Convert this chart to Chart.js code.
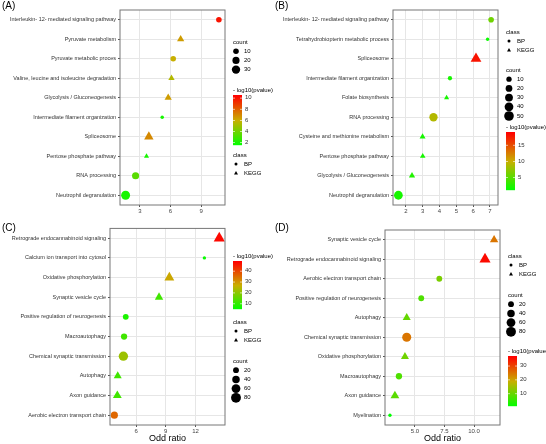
<!DOCTYPE html>
<html><head><meta charset="utf-8">
<script src="https://cdn.jsdelivr.net/npm/chart.js@4"></script>
<style>
body{margin:0;background:#fff;}
#wrap{position:relative;width:546px;height:444px;}
canvas{position:absolute;}
</style></head><body>
<div id="wrap">
<canvas id="cA" width="273" height="222" style="left:0;top:0"></canvas>
<canvas id="cB" width="273" height="222" style="left:273px;top:0"></canvas>
<canvas id="cC" width="273" height="222" style="left:0;top:222px"></canvas>
<canvas id="cD" width="273" height="222" style="left:273px;top:222px"></canvas>
</div>
<script>
// Panel A
const termsA = ['Interleukin- 12- mediated signaling pathway','Pyruvate metabolism','Pyruvate metabolic proces','Valine, leucine and isoleucine degradation','Glycolysis / Gluconeogenesis','Intermediate filament organization','Spliceosome','Pentose phosphate pathway','RNA processing','Neutrophil degranulation'];
const oddA = [10.75, 7.0, 6.27, 6.1, 5.78, 5.19, 3.88, 3.65, 2.58, 1.6];
const logpA = [10, 6.5, 6, 5.5, 6.5, 2, 7, 2, 3.5, 2];
const countA = [10, 15, 10, 10, 15, 2, 30, 5, 20, 35];
const classA = ['BP','KEGG','BP','KEGG','KEGG','BP','KEGG','KEGG','BP','BP'];

// Panel B
const termsB = ['Interleukin- 12- mediated signaling pathway','Tetrahydrobiopterin metabolic process','Spliceosome','Intermediate filament organization','Folate biosynthesis','RNA processing','Cysteine and methionine metabolism','Pentose phosphate pathway','Glycolysis / Gluconeogenesis','Neutrophil degranulation'];
const oddB = [7.07, 6.86, 6.17, 4.62, 4.42, 3.64, 2.99, 3.0, 2.36, 1.55];
const logpB = [6, 1.5, 18, 2, 2, 9, 2, 2, 2.5, 2];
const countB = [12, 2, 50, 5, 6, 35, 10, 8, 12, 40];
const classB = ['BP','BP','KEGG','BP','KEGG','BP','KEGG','KEGG','KEGG','BP'];

// Panel C
const termsC = ['Retrograde endocannabinoid signaling','Calcium ion transport into cytosol','Oxidative phosphorylation','Synaptic vesicle cycle','Positive regulation of neurogenesis','Macroautophagy','Chemical synaptic transmission','Autophagy','Axon guidance','Aerobic electron transport chain'];
const oddC = [14.4, 12.9, 9.36, 8.32, 4.96, 4.79, 4.72, 4.15, 4.11, 3.81];
const logpC = [48, 6, 28, 12, 8, 12, 22, 12, 12, 36];
const countC = [80, 3, 60, 40, 20, 25, 70, 35, 45, 35];
const classC = ['KEGG','BP','KEGG','KEGG','BP','BP','BP','KEGG','KEGG','BP'];

// Panel D
const termsD = ['Synaptic vesicle cycle','Retrograde endocannabinoid signaling','Aerobic electron transport chain','Positive regulation of neurogenesis','Autophagy','Chemical synaptic transmission','Oxidative phosphorylation','Macroautophagy','Axon guidance','Myelination'];
const oddD = [11.7, 10.93, 7.06, 5.53, 4.3, 4.3, 4.15, 3.64, 3.3, 2.88];
const logpD = [25, 36, 12, 8, 10, 25, 11, 8, 9, 1];
const countD = [40, 80, 20, 20, 35, 65, 35, 25, 45, 3];
const classD = ['KEGG','KEGG','BP','BP','KEGG','BP','KEGG','BP','KEGG','BP'];

function mix(a, b, t) { return a.map((v, i) => Math.round(v + (b[i] - v) * t)); }
function colorFor(v, lo, hi) {
    let t = Math.max(0, Math.min(1, (v - lo) / (hi - lo)));
    const g = [0, 255, 0], m = [200, 175, 0], r = [255, 0, 0];
    const c = t < 0.5 ? mix(g, m, t * 2) : mix(m, r, (t - 0.5) * 2);
    return 'rgb(' + c.join(',') + ')';
}
function radiusFor(n, k) { return 0.9 + Math.sqrt(n) * k; }

const FONT = 'Liberation Sans, Arial, sans-serif';

// legend painter: blocks drawn in canvas-local coords
const legendPlugin = {
    id: 'legendBlocks',
    afterDraw(chart) {
        const o = chart.options.plugins.legendBlocks;
        const ctx = chart.ctx;
        ctx.save();
        ctx.fillStyle = '#000';
        ctx.font = '10px ' + FONT;
        ctx.textBaseline = 'top';
        ctx.fillText(o.tag, 2, 1);
        ctx.font = '6px ' + FONT;
        ctx.textBaseline = 'middle';
        const x = o.x;
        o.blocks.forEach(b => {
            ctx.fillStyle = '#000';
            ctx.fillText(b.title, x, b.y);
            if (b.type === 'class') {
                [['BP', 'circle'], ['KEGG', 'triangle']].forEach((it, i) => {
                    const yy = b.y + 9 * (i + 1);
                    ctx.beginPath();
                    if (it[1] === 'circle') ctx.arc(x + 3, yy, 1.5, 0, Math.PI * 2);
                    else { ctx.moveTo(x + 3, yy - 2); ctx.lineTo(x + 5, yy + 1.5); ctx.lineTo(x + 1, yy + 1.5); }
                    ctx.fill();
                    ctx.fillText(it[0], x + 11, yy);
                });
            } else if (b.type === 'count') {
                b.values.forEach((v, i) => {
                    const yy = b.y + 9.2 * (i + 1);
                    ctx.beginPath();
                    ctx.arc(x + 3, yy, radiusFor(v, o.k), 0, Math.PI * 2);
                    ctx.fill();
                    ctx.fillText(String(v), x + 11, yy);
                });
            } else {
                const top = b.y + 5, h = b.h;
                for (let i = 0; i < h; i++) {
                    const v = o.hi - (o.hi - o.lo) * i / h;
                    ctx.fillStyle = colorFor(v, o.lo, o.hi);
                    ctx.fillRect(x, top + i, 9, 1.2);
                }
                b.ticks.forEach(t => {
                    const yy = top + h * (o.hi - t) / (o.hi - o.lo);
                    ctx.fillStyle = '#fff';
                    ctx.fillRect(x, yy, 2, 0.6); ctx.fillRect(x + 7, yy, 2, 0.6);
                    ctx.fillStyle = '#333';
                    ctx.fillText(String(t), x + 12, yy);
                });
            }
        });
        ctx.restore();
    }
};

function makePanel(id, cfg) {
    const lo = cfg.lo, hi = cfg.hi;
    const pts = cfg.terms.map((t, i) => ({ x: cfg.odd[i], y: t }));
    new Chart(document.getElementById(id), {
        type: 'scatter',
        data: {
            datasets: [{
                data: pts,
                pointStyle: c => cfg.cls[c.dataIndex] === 'BP' ? 'circle' : 'triangle',
                pointRadius: c => radiusFor(cfg.count[c.dataIndex], cfg.k) * (cfg.cls[c.dataIndex] === 'BP' ? 1 : 1.3),
                backgroundColor: c => colorFor(cfg.logp[c.dataIndex], lo, hi),
                borderWidth: 0
            }]
        },
        plugins: [legendPlugin, {
            id: 'frame',
            afterDraw(chart) {
                const a = chart.chartArea, ctx = chart.ctx;
                ctx.save(); ctx.strokeStyle = '#777'; ctx.lineWidth = 1;
                ctx.strokeRect(a.left, a.top, a.right - a.left, a.bottom - a.top);
                ctx.restore();
            }
        }],
        options: {
            responsive: false, animation: false,
            layout: { padding: { left: 0, right: 273 - cfg.right, top: cfg.top, bottom: 0 } },
            plugins: { legend: { display: false }, tooltip: { enabled: false },
                legendBlocks: { tag: cfg.tag, x: cfg.lx, lo: lo, hi: hi, k: cfg.k, blocks: cfg.blocks } },
            scales: {
                x: {
                    type: 'linear', min: cfg.xmin, max: cfg.xmax,
                    afterBuildTicks: ax => { ax.ticks = cfg.xticks.map(v => ({ value: v })); },
                    ticks: { font: { size: 6, family: FONT }, color: '#444', padding: 1,
                        callback: v => cfg.xfmt ? v.toFixed(1) : String(v) },
                    grid: { color: '#e6e6e6', tickLength: 2, tickColor: '#555' },
                    border: { display: false },
                    title: { display: !!cfg.xtitle, text: cfg.xtitle || '', font: { size: 9, family: FONT }, color: '#000', padding: 0 },
                    afterFit: ax => { ax.height = 222 - cfg.bottom; }
                },
                y: {
                    type: 'category', labels: cfg.terms, offset: true,
                    ticks: { font: { size: 5.5, family: FONT }, color: '#333', padding: 2, autoSkip: false },
                    grid: { color: '#e6e6e6', tickLength: 2, tickColor: '#555', offset: false },
                    border: { display: false },
                    afterFit: ax => { ax.width = cfg.left; }
                }
            }
        }
    });
}

makePanel('cA', { tag: '(A)', terms: termsA, odd: oddA, logp: logpA, count: countA, cls: classA,
    lo: 1.5, hi: 10.5, k: 0.6, xmin: 1.05, xmax: 11.35, xticks: [3, 6, 9],
    left: 120, right: 225, top: 10, bottom: 205, lx: 233,
    blocks: [{ type: 'count', title: 'count', y: 42, values: [10, 20, 30] },
             { type: 'color', title: '- log10(pvalue)', y: 90, h: 50, ticks: [10, 8, 6, 4, 2] },
             { type: 'class', title: 'class', y: 155 }] });

makePanel('cB', { tag: '(B)', terms: termsB, odd: oddB, logp: logpB, count: countB, cls: classB,
    lo: 1, hi: 19, k: 0.55, xmin: 1.23, xmax: 7.48, xticks: [2, 3, 4, 5, 6, 7],
    left: 120, right: 225, top: 10, bottom: 205, lx: 233,
    blocks: [{ type: 'class', title: 'class', y: 32 },
             { type: 'count', title: 'count', y: 70, values: [10, 20, 30, 40, 50] },
             { type: 'color', title: '- log10(pvalue)', y: 127, h: 58, ticks: [15, 10, 5] }] });

makePanel('cC', { tag: '(C)', terms: termsC, odd: oddC, logp: logpC, count: countC, cls: classC,
    lo: 5, hi: 49, k: 0.45, xmin: 3.37, xmax: 14.98, xticks: [6, 9, 12], xtitle: 'Odd ratio',
    left: 110, right: 225, top: 5, bottom: 203, lx: 233,
    blocks: [{ type: 'color', title: '- log10(pvalue)', y: 34, h: 48, ticks: [40, 30, 20, 10] },
             { type: 'class', title: 'class', y: 100 },
             { type: 'count', title: 'count', y: 139, values: [20, 40, 60, 80] }] });

makePanel('cD', { tag: '(D)', terms: termsD, odd: oddD, logp: logpD, count: countD, cls: classD,
    lo: 1, hi: 37, k: 0.45, xmin: 2.46, xmax: 12.2, xticks: [5, 7.5, 10], xfmt: true, xtitle: 'Odd ratio',
    left: 112, right: 227, top: 8, bottom: 203, lx: 235,
    blocks: [{ type: 'class', title: 'class', y: 34 },
             { type: 'count', title: 'count', y: 73, values: [20, 40, 60, 80] },
             { type: 'color', title: '- log10(pvalue)', y: 129, h: 50, ticks: [30, 20, 10] }] });
</script>
</body></html>
